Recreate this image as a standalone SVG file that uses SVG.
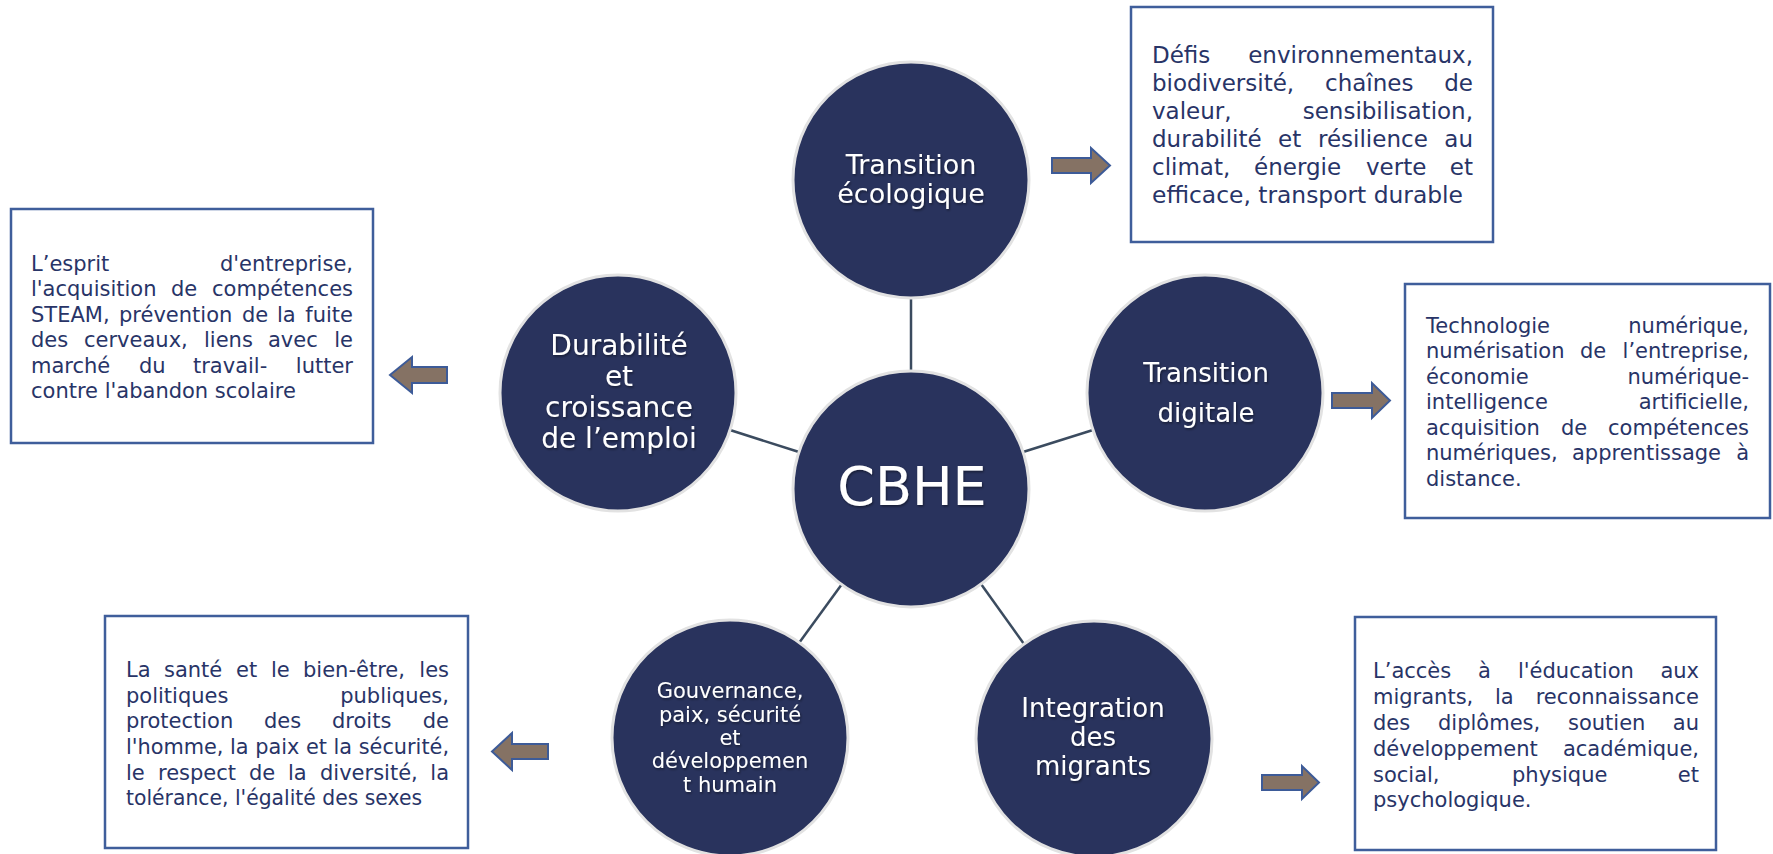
<svg xmlns="http://www.w3.org/2000/svg" width="1773" height="854" viewBox="0 0 1773 854">
<defs>
<style>
.node circle{fill:#29335d;stroke:#e2e2e2;stroke-width:3}
.lbl{fill:#ffffff;font-family:"DejaVu Sans","Noto Sans",sans-serif;text-anchor:middle;filter:url(#sh)}
.box rect{fill:#ffffff;stroke:#3f5e9b;stroke-width:2.5}
.bt{fill:#283467;font-family:"DejaVu Sans","Noto Sans",sans-serif;font-size:21px}
.big{font-size:23px}
.e{text-anchor:end}
.arr{fill:#857264;stroke:#3d5b98;stroke-width:2;stroke-linejoin:miter}
#connectors line{stroke:#3b4b5f;stroke-width:2.5}
</style>
<filter id="sh" x="-10%" y="-10%" width="120%" height="130%">
<feDropShadow dx="1" dy="1.5" stdDeviation="1" flood-color="#000" flood-opacity="0.45"/>
</filter>
</defs>
<rect width="1773" height="854" fill="#ffffff"/>

<g id="connectors">
<line x1="911" y1="299" x2="911" y2="371"/>
<line x1="730" y1="430" x2="799" y2="452"/>
<line x1="1023" y1="452" x2="1093" y2="430"/>
<line x1="842" y1="584" x2="799" y2="643"/>
<line x1="981" y1="584" x2="1024" y2="644"/>
</g>

<g id="arrows">
<path class="arr" d="M1052,158 H1091 V148 L1110,165.5 L1091,183 V173 H1052 Z"/>
<path class="arr" d="M1332,393 H1372 V383 L1390,400.5 L1372,418 V408 H1332 Z"/>
<path class="arr" d="M1262,775 H1302 V766 L1319,782.5 L1302,799 V790 H1262 Z"/>
<path class="arr" d="M447,367 H412 V357 L390,375 L412,393 V383 H447 Z"/>
<path class="arr" d="M548,744 H512 V733 L492,751.5 L512,770 V759 H548 Z"/>
</g>

<g id="node-cbhe" class="node">
<circle cx="911" cy="489" r="118"/>
<text class="lbl" x="912" y="505" font-size="54">CBHE</text>
</g>

<g id="node-ecologique" class="node">
<circle cx="911" cy="180" r="118"/>
<text class="lbl" font-size="27"><tspan x="911" y="174">Transition</tspan><tspan x="911" y="203">écologique</tspan></text>
</g>

<g id="node-durabilite" class="node">
<circle cx="618" cy="393" r="118"/>
<text class="lbl" font-size="28"><tspan x="619" y="355">Durabilité</tspan><tspan x="619" y="386">et</tspan><tspan x="619" y="417">croissance</tspan><tspan x="619" y="448">de l’emploi</tspan></text>
</g>

<g id="node-digitale" class="node">
<circle cx="1205" cy="393" r="118"/>
<text class="lbl" font-size="26"><tspan x="1206" y="382">Transition</tspan><tspan x="1206" y="422">digitale</tspan></text>
</g>

<g id="node-gouvernance" class="node">
<circle cx="730" cy="738" r="118"/>
<text class="lbl" font-size="21"><tspan x="730" y="698">Gouvernance,</tspan><tspan x="730" y="722">paix, sécurité</tspan><tspan x="730" y="745">et</tspan><tspan x="730" y="768">développemen</tspan><tspan x="730" y="792">t humain</tspan></text>
</g>

<g id="node-integration" class="node">
<circle cx="1094" cy="739" r="118"/>
<text class="lbl" font-size="26"><tspan x="1093" y="717">Integration</tspan><tspan x="1093" y="746">des</tspan><tspan x="1093" y="775">migrants</tspan></text>
</g>

<g id="box-ecologique" class="box">
<rect x="1131" y="7" width="362" height="235"/>
<text class="bt big" x="1152" y="63">Défis</text>
<text class="bt big e" x="1473" y="63">environnementaux,</text>
<text class="bt big" y="91"><tspan x="1152">biodiversité,</tspan><tspan x="1325">chaînes</tspan></text>
<text class="bt big e" x="1473" y="91">de</text>
<text class="bt big" x="1152" y="119">valeur,</text>
<text class="bt big e" x="1473" y="119">sensibilisation,</text>
<text class="bt big" y="147"><tspan x="1152">durabilité</tspan><tspan x="1278">et</tspan><tspan x="1318">résilience</tspan></text>
<text class="bt big e" x="1473" y="147">au</text>
<text class="bt big" y="175"><tspan x="1152">climat,</tspan><tspan x="1254">énergie</tspan><tspan x="1366">verte</tspan></text>
<text class="bt big e" x="1473" y="175">et</text>
<text class="bt big" x="1152" y="203" textLength="311" lengthAdjust="spacingAndGlyphs">efficace, transport durable</text>
</g>

<g id="box-durabilite" class="box">
<rect x="11" y="209" width="362" height="234"/>
<text class="bt" x="31" y="271">L’esprit</text>
<text class="bt e" x="353" y="271">d'entreprise,</text>
<text class="bt" y="296"><tspan x="31">l'acquisition</tspan><tspan x="171">de</tspan></text>
<text class="bt e" x="353" y="296">compétences</text>
<text class="bt" y="322"><tspan x="31">STEAM,</tspan><tspan x="119">prévention</tspan><tspan x="242">de</tspan><tspan x="277">la</tspan></text>
<text class="bt e" x="353" y="322">fuite</text>
<text class="bt" y="347"><tspan x="31">des</tspan><tspan x="84">cerveaux,</tspan><tspan x="204">liens</tspan><tspan x="268">avec</tspan></text>
<text class="bt e" x="353" y="347">le</text>
<text class="bt" y="373"><tspan x="31">marché</tspan><tspan x="139">du</tspan><tspan x="193">travail-</tspan></text>
<text class="bt e" x="353" y="373">lutter</text>
<text class="bt" x="31" y="398">contre l'abandon scolaire</text>
</g>

<g id="box-digitale" class="box">
<rect x="1405" y="284" width="365" height="234"/>
<text class="bt" x="1426" y="333">Technologie</text>
<text class="bt e" x="1749" y="333">numérique,</text>
<text class="bt" y="358"><tspan x="1426">numérisation</tspan><tspan x="1580">de</tspan></text>
<text class="bt e" x="1749" y="358">l’entreprise,</text>
<text class="bt" x="1426" y="384">économie</text>
<text class="bt e" x="1749" y="384">numérique-</text>
<text class="bt" x="1426" y="409">intelligence</text>
<text class="bt e" x="1749" y="409">artificielle,</text>
<text class="bt" y="435"><tspan x="1426">acquisition</tspan><tspan x="1561">de</tspan></text>
<text class="bt e" x="1749" y="435">compétences</text>
<text class="bt" y="460"><tspan x="1426">numériques,</tspan><tspan x="1572">apprentissage</tspan></text>
<text class="bt e" x="1749" y="460">à</text>
<text class="bt" x="1426" y="486">distance.</text>
</g>

<g id="box-gouvernance" class="box">
<rect x="105" y="616" width="363" height="232"/>
<text class="bt" y="677"><tspan x="126">La</tspan><tspan x="164">santé</tspan><tspan x="236">et</tspan><tspan x="271">le</tspan><tspan x="303">bien-être,</tspan></text>
<text class="bt e" x="449" y="677">les</text>
<text class="bt" x="126" y="703">politiques</text>
<text class="bt e" x="449" y="703">publiques,</text>
<text class="bt" y="728"><tspan x="126">protection</tspan><tspan x="264">des</tspan><tspan x="332">droits</tspan></text>
<text class="bt e" x="449" y="728">de</text>
<text class="bt" x="126" y="754" textLength="323" lengthAdjust="spacingAndGlyphs">l'homme, la paix et la sécurité,</text>
<text class="bt" y="780"><tspan x="126">le</tspan><tspan x="158">respect</tspan><tspan x="249">de</tspan><tspan x="288">la</tspan><tspan x="320">diversité,</tspan></text>
<text class="bt e" x="449" y="780">la</text>
<text class="bt" x="126" y="805" textLength="296" lengthAdjust="spacingAndGlyphs">tolérance, l'égalité des sexes</text>
</g>

<g id="box-integration" class="box">
<rect x="1355" y="617" width="361" height="233"/>
<text class="bt" y="678"><tspan x="1373">L’accès</tspan><tspan x="1478">à</tspan><tspan x="1518">l'éducation</tspan></text>
<text class="bt e" x="1699" y="678">aux</text>
<text class="bt" y="704"><tspan x="1373">migrants,</tspan><tspan x="1495">la</tspan></text>
<text class="bt e" x="1699" y="704">reconnaissance</text>
<text class="bt" y="730"><tspan x="1373">des</tspan><tspan x="1438">diplômes,</tspan><tspan x="1568">soutien</tspan></text>
<text class="bt e" x="1699" y="730">au</text>
<text class="bt" x="1373" y="756">développement</text>
<text class="bt e" x="1699" y="756">académique,</text>
<text class="bt" y="782"><tspan x="1373">social,</tspan><tspan x="1512">physique</tspan></text>
<text class="bt e" x="1699" y="782">et</text>
<text class="bt" x="1373" y="807">psychologique.</text>
</g>
</svg>
